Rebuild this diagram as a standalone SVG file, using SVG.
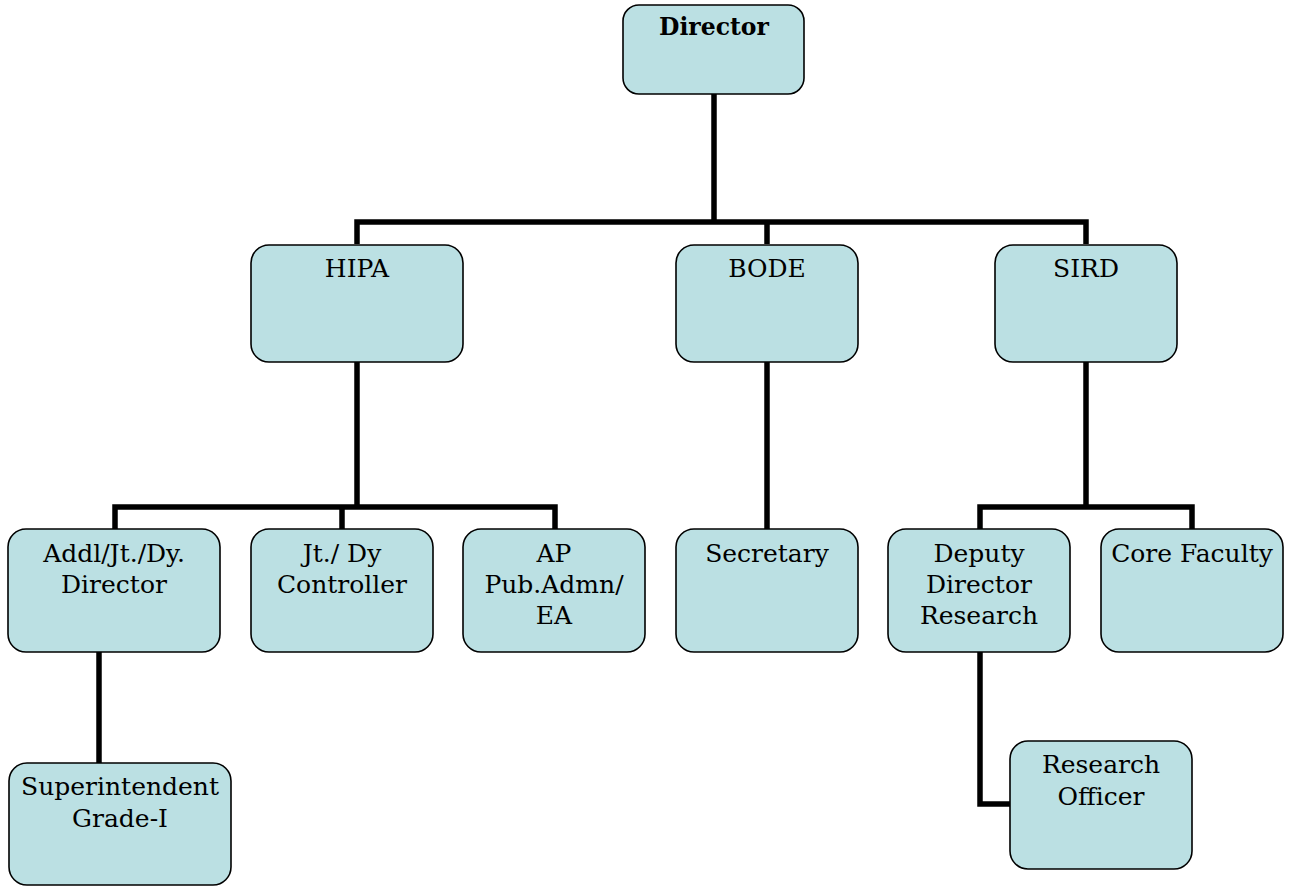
<svg xmlns="http://www.w3.org/2000/svg" width="1296" height="886" viewBox="0 0 1296 886">
<style>
.box{fill:#bbe0e3;stroke:#000;stroke-width:1.6}
.t{font-family:"DejaVu Serif","Liberation Serif",serif;font-size:25px;fill:#000;text-anchor:middle}
.b{font-weight:bold;font-size:23.5px}
.c{fill:none;stroke:#000;stroke-width:5.5;stroke-linejoin:miter;stroke-linecap:butt}
</style>
<rect width="1296" height="886" fill="#fff"/>
<g id="connectors">
<path class="c" d="M714,94 V222 M357,244 V222 H1086 V244 M767,222 V244"/>
<path class="c" d="M357,362 V507 M115,529 V507 H555 V529 M342,507 V529"/>
<path class="c" d="M767,362 V529"/>
<path class="c" d="M1086,362 V507 M980,529 V507 H1192 V529"/>
<path class="c" d="M99,652 V763"/>
<path class="c" d="M980,652 V804 H1010"/>
</g>
<g id="director"><rect class="box" x="623" y="5" width="181" height="89" rx="16"/><text class="t b" x="714" y="35">Director</text></g>
<g id="hipa"><rect class="box" x="251" y="245" width="212" height="117" rx="18"/><text class="t" x="357" y="277">HIPA</text></g>
<g id="bode"><rect class="box" x="676" y="245" width="182" height="117" rx="18"/><text class="t" x="767" y="277">BODE</text></g>
<g id="sird"><rect class="box" x="995" y="245" width="182" height="117" rx="18"/><text class="t" x="1086" y="277">SIRD</text></g>
<g id="addl"><rect class="box" x="8" y="529" width="212" height="123" rx="18"/><text class="t" x="114" y="562">Addl/Jt./Dy.</text><text class="t" x="114" y="593">Director</text></g>
<g id="controller"><rect class="box" x="251" y="529" width="182" height="123" rx="18"/><text class="t" x="342" y="562">Jt./ Dy</text><text class="t" x="342" y="593">Controller</text></g>
<g id="ap"><rect class="box" x="463" y="529" width="182" height="123" rx="18"/><text class="t" x="554" y="562">AP</text><text class="t" x="554" y="593">Pub.Admn/</text><text class="t" x="554" y="624">EA</text></g>
<g id="secretary"><rect class="box" x="676" y="529" width="182" height="123" rx="18"/><text class="t" x="767" y="562">Secretary</text></g>
<g id="deputy"><rect class="box" x="888" y="529" width="182" height="123" rx="18"/><text class="t" x="979" y="562">Deputy</text><text class="t" x="979" y="593">Director</text><text class="t" x="979" y="624">Research</text></g>
<g id="core"><rect class="box" x="1101" y="529" width="182" height="123" rx="18"/><text class="t" x="1192" y="562">Core Faculty</text></g>
<g id="superintendent"><rect class="box" x="9" y="763" width="222" height="122" rx="18"/><text class="t" x="120" y="795">Superintendent</text><text class="t" x="120" y="827">Grade-I</text></g>
<g id="research-officer"><rect class="box" x="1010" y="741" width="182" height="128" rx="18"/><text class="t" x="1101" y="773">Research</text><text class="t" x="1101" y="805">Officer</text></g>
</svg>
